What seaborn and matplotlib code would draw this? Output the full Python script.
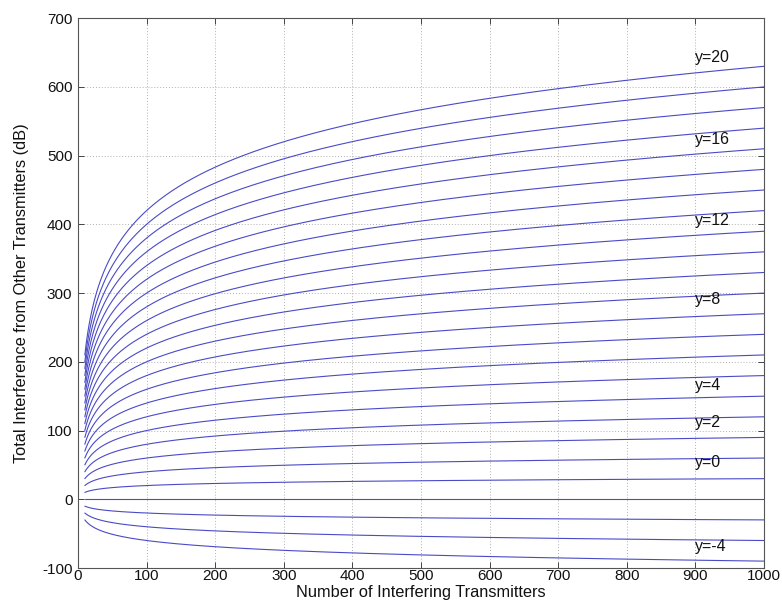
import numpy as np
import pandas as pd
import matplotlib
matplotlib.use("Agg")
import matplotlib.pyplot as plt
import seaborn as sns

# Curve parameters
y_params = list(range(-4, 21))                       # y = -4 ... 20
end_values = [-90, -60, -30, 0, 30, 60, 90, 120, 150, 180, 210, 240, 270,
              300, 330, 360, 390, 420, 450, 480, 510, 540, 570, 600, 630]  # value at N=1000
n_transmitters = np.arange(10, 1001)

label_names = ["y=20", "y=16", "y=12", "y=8", "y=4", "y=2", "y=0", "y=-4"]
label_x = [900] * 8
label_y = [643, 523, 405, 290, 166, 111, 54, -68]

x_ticks = [0, 100, 200, 300, 400, 500, 600, 700, 800, 900, 1000]
y_ticks = [-100, 0, 100, 200, 300, 400, 500, 600, 700]

rows = []
for yp, ev in zip(y_params, end_values):
    vals = ev / 3.0 * np.log10(n_transmitters)
    rows.append(pd.DataFrame({"N": n_transmitters, "I": vals, "curve": yp}))
df = pd.concat(rows, ignore_index=True)

sns.set_theme(style="white")
plt.rcParams["font.family"] = ["Liberation Sans", "DejaVu Sans"]
plt.rcParams["axes.unicode_minus"] = False

fig = plt.figure(figsize=(7.82, 6.06), dpi=100)
ax = fig.add_axes([0.0997, 0.0627, 0.8773, 0.9073])

sns.lineplot(data=df, x="N", y="I", units="curve", estimator=None,
             color="#4a4ac8", linewidth=0.8, ax=ax, legend=False)

for name, lx, ly in zip(label_names, label_x, label_y):
    ax.text(lx, ly, name, fontsize=11.5, ha="left", va="center", color="#111111")

ax.set_xlim(0, 1000)
ax.set_ylim(-100, 700)
ax.set_xticks(x_ticks)
ax.set_yticks(y_ticks)
ax.grid(True, color="#b0b0b0", linestyle=(0, (1, 2)), linewidth=0.7)
ax.tick_params(direction="in", length=4, width=0.7, labelsize=11,
               top=True, right=True, bottom=True, left=True, colors="#444444",
               labelcolor="#111111")
ax.tick_params(axis="x", pad=1)
ax.tick_params(axis="y", pad=4)
for s in ax.spines.values():
    s.set_color("#555555")
    s.set_linewidth(0.8)
ax.set_xlabel("Number of Interfering Transmitters", fontsize=11.8, color="#111111")
ax.set_ylabel("Total Interference from Other Transmitters (dB)", fontsize=11.8,
              color="#111111")
ax.yaxis.set_label_coords((29 - 78) / 686.0, 0.5)
ax.xaxis.set_label_coords(0.5, -(585 - 568) / 550.0)
ax.set_facecolor("white")

fig.savefig("out.png", dpi=100, facecolor="white")
